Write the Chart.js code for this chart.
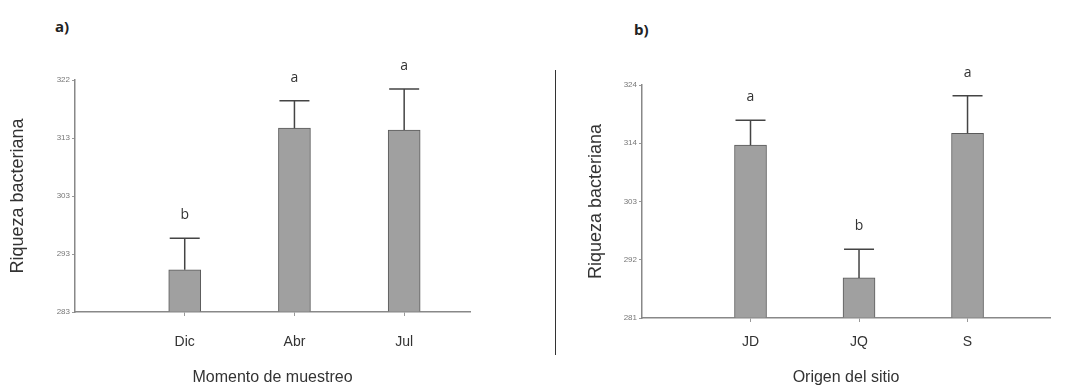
<!DOCTYPE html>
<html>
<head>
<meta charset="utf-8">
<script src="https://cdn.jsdelivr.net/npm/chart.js@4.4.1/dist/chart.umd.min.js"></script>
<style>
  html, body { margin:0; padding:0; background:#fff; }
  body { width:1068px; height:387px; position:relative; overflow:hidden; font-family:"Open Sans", sans-serif; }
  .box { position:absolute; top:0; height:387px; }
  .tag { position:absolute; font-weight:bold; font-size:15px; color:#222; }
  .divider { position:absolute; left:555px; top:70px; width:1px; height:285px; background:#333; }
</style>
</head>
<body>
<div class="tag" style="left:55px; top:16px;">a)</div>
<div class="tag" style="left:634px; top:19px;">b)</div>
<div class="divider"></div>
<div class="box" style="left:0; width:555px;"><canvas id="chartA"></canvas></div>
<div class="box" style="left:556px; width:512px;"><canvas id="chartB"></canvas></div>
<script>
// panel a) - momento de muestreo
const catsA = ['Dic', 'Abr', 'Jul'];
const meanA = [290.1, 313.9, 313.6];
const upperA = [295.4, 318.5, 320.5];
const lettersA = ['b', 'a', 'a'];
const ticksA = ['283', '293', '303', '313', '322'];

// panel b) - origen del sitio
const catsB = ['JD', 'JQ', 'S'];
const meanB = [312.9, 288.4, 315.1];
const upperB = [317.5, 293.7, 322.0];
const lettersB = ['a', 'b', 'a'];
const ticksB = ['281', '292', '303', '314', '324'];

const errPlugin = {
  id: 'errBars',
  afterDatasetsDraw(chart, args, opts) {
    const { ctx, scales: { x, y } } = chart;
    ctx.save();
    ctx.strokeStyle = '#444';
    ctx.lineWidth = 1.5;
    ctx.fillStyle = '#333';
    ctx.font = '14px "Open Sans", sans-serif';
    ctx.textAlign = 'center';
    ctx.textBaseline = 'middle';
    opts.mean.forEach((m, i) => {
      const px = x.getPixelForValue(i + 1);
      const y0 = y.getPixelForValue(m);
      const y1 = y.getPixelForValue(opts.upper[i]);
      ctx.beginPath();
      ctx.moveTo(px, y0); ctx.lineTo(px, y1);
      ctx.moveTo(px - 15, y1); ctx.lineTo(px + 15, y1);
      ctx.stroke();
      ctx.fillText(opts.letters[i], px, y1 - 23);
    });
    ctx.restore();
  }
};

function makePanel(id, cats, mean, upper, letters, tickLabs, cfg) {
  const lo = +tickLabs[0], hi = +tickLabs[tickLabs.length - 1];
  return new Chart(document.getElementById(id), {
    type: 'bar',
    data: {
      datasets: [{
        data: mean.map((v, i) => ({ x: i + 1, y: v })),
        backgroundColor: '#a0a0a0', borderColor: '#5a5a5a', borderWidth: 1,
        barThickness: 32, base: lo
      }]
    },
    options: {
      responsive: true, maintainAspectRatio: false, animation: false,
      layout: { padding: { left: 0, top: cfg.top, right: cfg.right, bottom: 0 } },
      plugins: {
        legend: { display: false }, tooltip: { enabled: false },
        errBars: { mean, upper, letters }
      },
      scales: {
        x: {
          type: 'linear', min: 0, max: cfg.xmax, offset: false,
          afterBuildTicks: s => { s.ticks = cats.map((c, i) => ({ value: i + 1 })); },
          afterFit: s => { s.height = cfg.xh; },
          ticks: { color: '#333', font: { size: 14 }, padding: cfg.xtpad, callback: (v, i) => cats[i] },
          grid: { drawOnChartArea: false, offset: false, tickLength: 4, color: '#999' },
          border: { color: '#888', width: 1.5 },
          title: { display: true, text: cfg.xtitle, color: '#333', font: { size: 16 }, padding: { top: 0, bottom: 0 } }
        },
        y: {
          min: lo, max: hi,
          afterBuildTicks: s => { s.ticks = tickLabs.map((t, i) => ({ value: lo + i * (hi - lo) / (tickLabs.length - 1) })); },
          afterFit: s => { s.width = cfg.yw; },
          ticks: { color: '#777', font: { size: 8 }, padding: 2, callback: (v, i) => tickLabs[i] },
          grid: { drawOnChartArea: false, tickLength: 3, color: '#999' },
          border: { color: '#888', width: 1.5 },
          title: { display: true, text: 'Riqueza bacteriana', color: '#333', font: { size: 18 }, padding: { top: cfg.ytpad, bottom: 0 } }
        }
      }
    },
    plugins: [errPlugin]
  });
}

makePanel('chartA', catsA, meanA, upperA, lettersA, ticksA,
  { top: 80, right: 85, xh: 75, yw: 75, xmax: 3.6, ytpad: 7, xtpad: 18, xtitle: 'Momento de muestreo' });
makePanel('chartB', catsB, meanB, upperB, lettersB, ticksB,
  { top: 85, right: 18, xh: 69, yw: 86, xmax: 3.76, ytpad: 29, xtpad: 12, xtitle: 'Origen del sitio' });
</script>
</body>
</html>
